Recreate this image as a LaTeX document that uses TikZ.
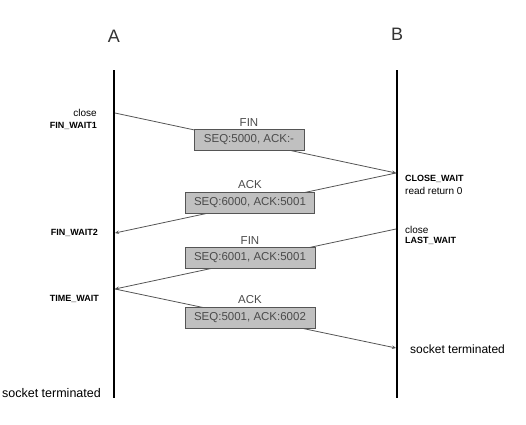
\documentclass[tikz,border=0pt]{standalone}
\usepackage{fontspec}
\setmainfont{Liberation Sans}
\usetikzlibrary{arrows.meta,positioning}

\definecolor{boxgray}{RGB}{192,192,192}
\definecolor{linegray}{RGB}{85,85,85}
\definecolor{textgray}{RGB}{75,75,75}

\tikzset{
  lifeline/.style={line width=2pt, black},
  msg/.style={draw=linegray, line width=0.8pt, -{Stealth[length=4pt,width=3.5pt]}},
  segbox/.style={draw=linegray, fill=boxgray, line width=0.8pt, minimum height=21pt,
                 text=textgray, font=\fontsize{11.5}{13}\selectfont},
  flag/.style={text=textgray, font=\fontsize{11.5}{13}\selectfont},
  state/.style={inner sep=0pt, font=\fontsize{9}{10}\selectfont\bfseries},
  note/.style={inner sep=0pt, font=\fontsize{10}{11}\selectfont},
  host/.style={text=black!80, font=\fontsize{18}{20}\selectfont}
}

\begin{document}
\begin{tikzpicture}[x=1pt, y=-1pt]
\useasboundingbox (0,0) rectangle (526,424);

% hosts and lifelines
\node[host] (A) at (114,36) {A};
\node[host] (B) at (397,34) {B};
\coordinate (Atop) at (114,70);
\coordinate (Abot) at (114,398);
\coordinate (Btop) at (397,70);
\coordinate (Bbot) at (397,398);
\draw[lifeline] (Atop) -- (Abot);
\draw[lifeline] (Btop) -- (Bbot);

% message end points
\coordinate (a1) at (115,113);
\coordinate (b1) at (396,173);
\coordinate (a2) at (115,233);
\coordinate (b2) at (396,229);
\coordinate (a3) at (115,289);
\coordinate (b3) at (396,348);

\foreach \i/\j in {a1/b1, b1/a2, b2/a3, a3/b3} {
  \draw[msg] (\i) -- (\j);
}

% segments
\foreach \n/\x/\y/\w/\f/\s in {1/249/140/110/FIN/{SEQ:5000, ACK:-},
                              2/250/202.5/129/ACK/{SEQ:6000, ACK:5001},
                              3/250/257.5/130/FIN/{SEQ:6001, ACK:5001},
                              4/250/317.5/130/ACK/{SEQ:5001, ACK:6002}} {
  \node[segbox, minimum width=\w pt] (seg\n) at (\x,\y) {\s};
  \node[flag, above=-1pt of seg\n] (flag\n) {\f};
}

% states of A
\node[note, anchor=east] (closeA) at (97,113) {close};
\node[state, anchor=east] (fw1) at (97,126) {FIN\_WAIT1};
\node[state, anchor=east] (fw2) at (98,233) {FIN\_WAIT2};
\node[state, anchor=east] (tw) at (99,299) {TIME\_WAIT};
\node[inner sep=0pt, anchor=east, font=\fontsize{12.5}{14}\selectfont] (endA) at (101,393) {socket terminated};

% states of B
\node[state, anchor=west] (cw) at (405,179) {CLOSE\_WAIT};
\node[note, anchor=west] (rr) at (405,191) {read return 0};
\node[note, anchor=west] (closeB) at (405,230) {close};
\node[state, anchor=west] (lw) at (405,241) {LAST\_WAIT};
\node[inner sep=0pt, anchor=west, font=\fontsize{12}{14}\selectfont] (endB) at (410,349) {socket terminated};
\end{tikzpicture}
\end{document}
